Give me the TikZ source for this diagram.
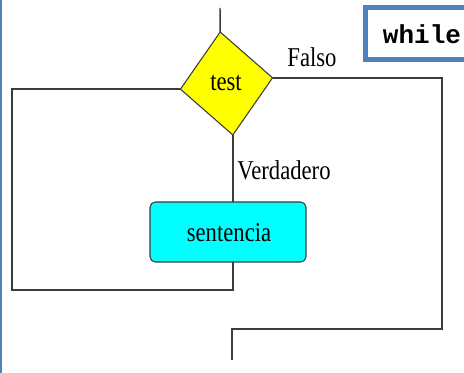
\documentclass[tikz,border=0pt]{standalone}
\usepackage{fontspec}
\setmainfont{Liberation Serif}
\setmonofont{Liberation Mono}
\usetikzlibrary{calc, shapes}
\definecolor{framecolor}{RGB}{79,129,189}
\definecolor{linecolor}{RGB}{60,60,60}
\definecolor{boxcyan}{RGB}{0,255,255}
\definecolor{boxyellow}{RGB}{255,255,0}
\newcommand{\tall}[1]{\scalebox{1}[1.2]{#1}}
\tikzstyle{decision} = [diamond, draw=linecolor, line width=0.8pt, fill=boxyellow, inner sep=0pt, outer sep=0pt, minimum width=69.6pt, minimum height=77.8pt, rotate=7]
\tikzstyle{process} = [rectangle, draw=linecolor, line width=0.8pt, fill=boxcyan, rounded corners=4pt, outer sep=0pt, minimum width=117pt, minimum height=45pt]
\tikzstyle{label} = [font=\fontsize{17}{20}\selectfont, inner sep=0pt]

\begin{document}
\begin{tikzpicture}[x=0.75pt, y=-0.75pt, line width=1.1pt, draw=linecolor]
        \useasboundingbox (0, 0) rectangle (464, 373);
        \fill[framecolor] (0, 0) rectangle (2, 373);
        \node[rectangle, draw=framecolor, line width=3.75pt, minimum width=85.5pt, minimum height=39pt, font=\fontsize{19.5}{22}\selectfont\ttfamily\bfseries] at (422, 34) (keyword) {while};

        \node[decision] at (226.5, 83.5) (diamond) {};
        \node[label] at (226, 83) (test) {\tall{test}};
        \node[process] at (228, 232) (sentencia) {};
        \node[label] at (229, 233) (sentenciatext) {\tall{sentencia}};
        \node[label] at (312, 57) (falso) {\tall{Falso}};
        \node[label] at (284, 170) (verdadero) {\tall{Verdadero}};

        \coordinate (entry) at (220, 8);
        \coordinate (exit) at (232, 360);

        \draw (entry) -- (diamond.north);
        \draw (diamond.south) -- (diamond.south |- sentencia.north);
        \draw (diamond.west) -| (12, 290) -| (sentencia.south -| diamond.south);
        \draw (diamond.east) -| (442, 329) -| (exit);
    \end{tikzpicture}
\end{document}
